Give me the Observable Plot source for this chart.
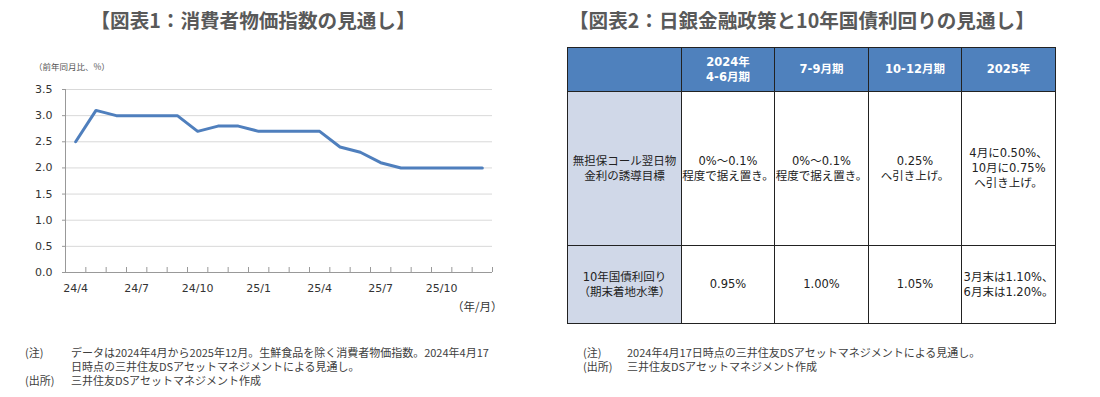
<!DOCTYPE html>
<html><head><meta charset="utf-8">
<script src="https://cdn.jsdelivr.net/npm/d3@7"></script>
<script src="https://cdn.jsdelivr.net/npm/@observablehq/plot@0.6"></script>
<style>
body{margin:0;width:1100px;height:397px;background:#fff;position:relative;overflow:hidden;font-family:"Noto Sans CJK JP",sans-serif;color:#333}
.abs{position:absolute}
.title{font-weight:bold;font-size:19.6px;color:#595959;white-space:nowrap;line-height:1}
.sub{font-size:8.5px;color:#555;white-space:nowrap;line-height:1}
.notes{font-size:11px;line-height:14px;color:#404040;white-space:nowrap}
.notes .row{display:flex}
.notes .lab{flex:none}
table{border-collapse:collapse;table-layout:fixed;font-family:"DejaVu Sans","Noto Sans CJK JP",sans-serif}
td{border:1.5px solid #222;text-align:center;vertical-align:middle;white-space:pre-line;font-size:11.5px;line-height:15px;padding:0;color:#222}
tr.head td{background:#4f81bd;color:#fff;font-weight:bold;font-size:11.5px;line-height:15px}
td.rowlab{background:#d0d8e8}
</style></head>
<body>
<div class="abs title" style="left:0;width:506px;text-align:center;top:10px">【図表1：消費者物価指数の見通し】</div>
<div class="abs title" style="left:569px;top:10px">【図表2：日銀金融政策と10年国債利回りの見通し】</div>
<div class="abs sub" style="left:34px;top:62px">（前年同月比、%）</div>
<div id="chart" class="abs" style="left:0;top:80px"></div>
<table id="tbl" class="abs" style="left:567px;top:47px;width:488px"></table>
<div id="notes1" class="abs notes" style="left:25px;top:345px"></div>
<div id="notes2" class="abs notes" style="left:583px;top:345px"></div>
<script>
// ---- Chart 1 data ----
const months = ["24/4","24/5","24/6","24/7","24/8","24/9","24/10","24/11","24/12","25/1","25/2","25/3","25/4","25/5","25/6","25/7","25/8","25/9","25/10","25/11","25/12"];
const cpi = [2.5,3.1,3.0,3.0,3.0,3.0,2.7,2.8,2.8,2.7,2.7,2.7,2.7,2.4,2.3,2.1,2.0,2.0,2.0,2.0,2.0];
const xTickLabels = ["24/4","24/7","24/10","25/1","25/4","25/7","25/10"];
const yTicks = [0,0.5,1.0,1.5,2.0,2.5,3.0,3.5];
const xUnitLabel = "（年/月）";

// ---- Table data ----
const tableColumns = ["","2024年\n4-6月期","7-9月期","10-12月期","2025年"];
const rowLabels = ["無担保コール翌日物\n金利の誘導目標","10年国債利回り\n（期末着地水準）"];
const policyRate = ["0%～0.1%\n程度で据え置き。","0%～0.1%\n程度で据え置き。","0.25%\nへ引き上げ。","4月に0.50%、\n10月に0.75%\nへ引き上げ。"];
const jgbYield = ["0.95%","1.00%","1.05%","3月末は1.10%、\n6月末は1.20%。"];

// ---- Notes ----
const notes1 = [["(注)","データは2024年4月から2025年12月。生鮮食品を除く消費者物価指数。2024年4月17"],["","日時点の三井住友DSアセットマネジメントによる見通し。"],["(出所)","三井住友DSアセットマネジメント作成"]];
const notes2 = [["(注)","2024年4月17日時点の三井住友DSアセットマネジメントによる見通し。"],["(出所)","三井住友DSアセットマネジメント作成"]];

const data = months.map((m,i)=>({i, m, v: cpi[i]}));
const xTickIdx = xTickLabels.map(l=>months.indexOf(l));
const bounds = d3.range(-0.5, months.length, 1);

const chart = Plot.plot({
  width: 540, height: 240,
  marginLeft: 65, marginRight: 48, marginTop: 9, marginBottom: 48,
  x: {type: "linear", domain: [-0.5, months.length - 0.5], label: null},
  y: {domain: [0, 3.5], label: null},
  style: {fontFamily: "DejaVu Sans", fontSize: "11px", color: "#333", background: "transparent", overflow: "visible"},
  marks: [
    Plot.gridY(yTicks.filter(t => t > 0), {stroke: "#d9d9d9", strokeOpacity: 1}),
    Plot.axisY(yTicks, {tickFormat: d => d.toFixed(1), tickSize: 3, tickPadding: 10, stroke: "#999", label: null}),
    Plot.axisX(xTickIdx, {tickFormat: i => months[i], tickSize: 0, tickPadding: 12, label: null}),
    Plot.ruleX([-0.5], {stroke: "#999"}),
    Plot.ruleY([0], {stroke: "#999"}),
    Plot.ruleX(bounds, {x: d => d, y1: 0, y2: 0, insetTop: -5, stroke: "#999"}),
    Plot.line(data, {x: "i", y: "v", stroke: "#4f7fbd", strokeWidth: 3}),
    Plot.text([xUnitLabel], {frameAnchor: "bottom-right", dx: 10, dy: 38, textAnchor: "end", fontFamily: "Noto Sans CJK JP", fontSize: 11.5, fill: "#333"})
  ]
});
document.getElementById("chart").append(chart);

// ---- Table ----
const colWidths = [114, 93, 94, 93, 94];
const rowHeights = [44, 154, 78];
const tbl = document.getElementById("tbl");
const cg = document.createElement("colgroup");
colWidths.forEach(w => { const c = document.createElement("col"); c.style.width = w + "px"; cg.append(c); });
tbl.append(cg);
const rows = [tableColumns, [rowLabels[0], ...policyRate], [rowLabels[1], ...jgbYield]];
rows.forEach((r, ri) => {
  const tr = document.createElement("tr");
  if (ri === 0) tr.className = "head";
  tr.style.height = rowHeights[ri] + "px";
  r.forEach((txt, ci) => {
    const td = document.createElement("td");
    if (ri > 0 && ci === 0) td.className = "rowlab";
    td.textContent = txt;
    tr.append(td);
  });
  tbl.append(tr);
});

function renderNotes(id, arr, labW) {
  const el = document.getElementById(id);
  arr.forEach(([a, b]) => {
    const row = document.createElement("div"); row.className = "row";
    const l = document.createElement("span"); l.className = "lab"; l.style.width = labW + "px"; l.textContent = a;
    const t = document.createElement("span"); t.textContent = b;
    row.append(l, t); el.append(row);
  });
}
renderNotes("notes1", notes1, 46);
renderNotes("notes2", notes2, 44);
</script>
</body></html>
